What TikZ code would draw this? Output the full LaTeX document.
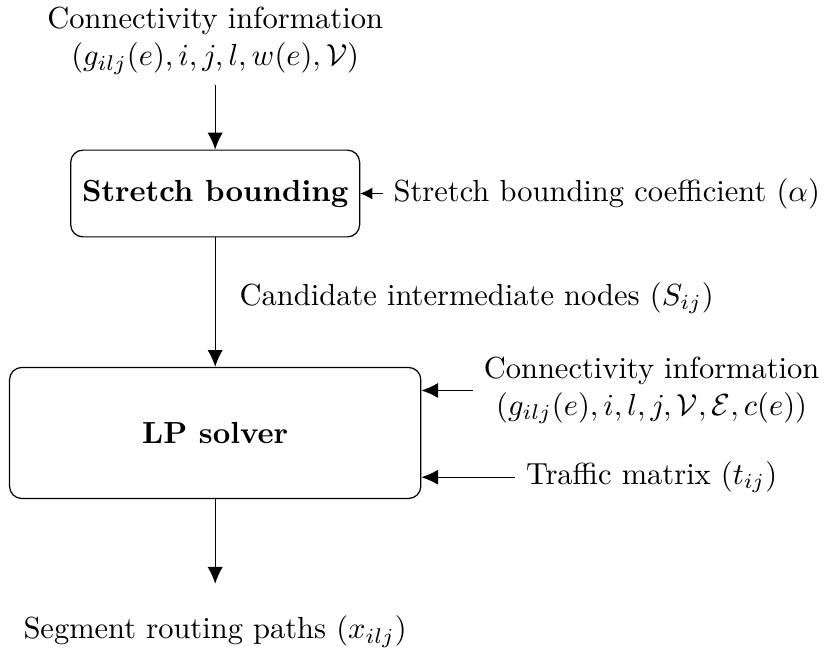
\documentclass[tikz,border=0pt]{standalone}
\usepackage{tikz}
\usetikzlibrary{positioning,arrows.meta}
\usepackage{amsmath}
\usepackage{amssymb}

\begin{document}
\begin{tikzpicture}[>={Latex[length=5.5pt,width=5pt]},
  block/.style={draw, rounded corners, align=center}]
\useasboundingbox (0,0) rectangle (9.52,-7.52);

\node[align=center] (conninfo) at (2.48,-0.47) {Connectivity information\\$(g_{ilj}(e), i, j, l, w(e), \mathcal{V})$};
\node[block, minimum width=3.33cm, minimum height=1cm] (stretch) at (2.48,-2.23) {\textbf{Stretch bounding}};
\node[right=0.26cm of stretch] (alpha) {Stretch bounding coefficient $(\alpha)$};

\node[block, minimum width=4.74cm, minimum height=1.51cm] (lp) at (2.48,-4.99) {\textbf{LP solver}};
\node[align=center] (netinfo) at (7.51,-4.50) {Connectivity information\\$(g_{ilj}(e), i, l, j, \mathcal{V}, \mathcal{E}, c(e))$};
\node[] (traffic) at (7.51,-5.50) {Traffic matrix $(t_{ij})$};
\node[] (paths) at (2.48,-7.28) {Segment routing paths $(x_{ilj})$};

\draw[->] (conninfo) -- (stretch);
\draw[-{Latex[length=4pt,width=4pt]}] (alpha) -- (stretch);
\draw[->] (stretch) -- node[pos=0.47, right=4.5pt] {Candidate intermediate nodes $(S_{ij})$} (lp);
\draw[->] (netinfo.west) -- (netinfo.west -| lp.east);
\draw[->] (traffic) -- (traffic -| lp.east);
\draw[->, shorten >=7pt] (lp) -- (paths);

\end{tikzpicture}
\end{document}
